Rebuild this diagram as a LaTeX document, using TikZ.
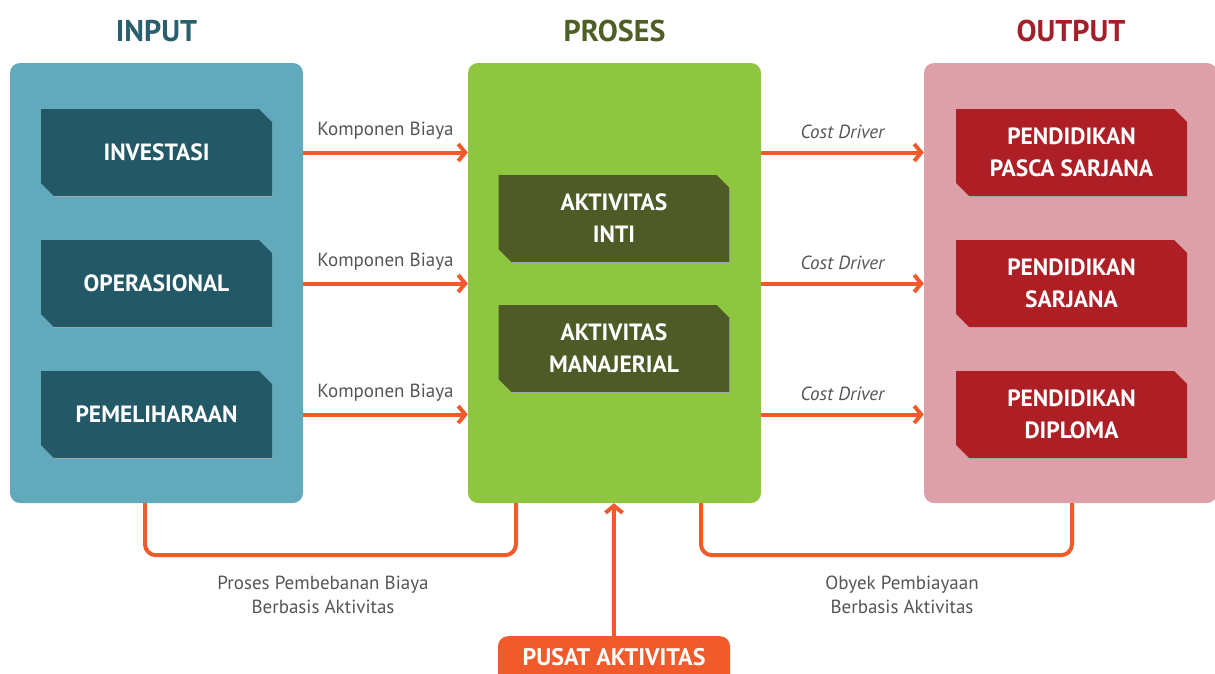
\documentclass[tikz,border=0pt]{standalone}
\usepackage{fontspec}
\setmainfont{PT Sans}
\usetikzlibrary{arrows.meta}
\definecolor{inbg}{HTML}{62A9BC}
\definecolor{inbox}{HTML}{235866}
\definecolor{intitle}{HTML}{2A5F6E}
\definecolor{prbg}{HTML}{8EC63F}
\definecolor{prbox}{HTML}{4E5B27}
\definecolor{prtitle}{HTML}{4F5E23}
\definecolor{outbg}{HTML}{DDA0A8}
\definecolor{outbox}{HTML}{AE1E25}
\definecolor{outtitle}{HTML}{A3202A}
\definecolor{flow}{HTML}{F15A2B}
\definecolor{note}{HTML}{555555}
\tikzset{
  panel/.style={fill=#1, rounded corners=10pt, minimum width=293pt, minimum height=440pt, inner sep=0pt},
  title/.style={text=#1, font=\bfseries\fontsize{30}{32}\selectfont},
  cutbox/.style={minimum width=231pt, minimum height=87pt, inner sep=0pt, align=center,
    text=white, font=\bfseries\fontsize{23.5}{32}\selectfont,
    path picture={
      \fill[#1] (path picture bounding box.north west)
        -- ([xshift=-13pt]path picture bounding box.north east)
        -- ([yshift=-13pt]path picture bounding box.north east)
        -- (path picture bounding box.south east)
        -- ([xshift=13pt]path picture bounding box.south west)
        -- ([yshift=13pt]path picture bounding box.south west) -- cycle;
      \draw[black!35, line width=0.9pt]
        ([yshift=-13pt]path picture bounding box.north east)
        -- (path picture bounding box.south east)
        -- ([xshift=13pt]path picture bounding box.south west);
    }},
  flowarrow/.style={draw=flow, line width=4pt, -{Straight Barb[length=7pt, width=17pt]}},
  flowline/.style={draw=flow, line width=4pt, rounded corners=11pt},
  lab/.style={text=note, font=\fontsize{19}{24}\selectfont, align=center},
}
\begin{document}
\begin{tikzpicture}[x=1pt, y=-1pt]
\useasboundingbox (0,0) rectangle (1215,673);

% three column panels
\node[panel=inbg]  (input)  at (156.5,283) {};
\node[panel=prbg]  (proses) at (614.5,283) {};
\node[panel=outbg] (output) at (1070.5,283) {};

% column titles
\node[title=intitle]  (tin)  at (156.5,31) {INPUT};
\node[title=prtitle]  (tpr)  at (614.5,31) {PROSES};
\node[title=outtitle] (tout) at (1071,31) {OUTPUT};

% input items
\node[cutbox=inbox] (inv) at (156.5,152.5) {INVESTASI};
\node[cutbox=inbox] (ops) at (156.5,283.5) {OPERASIONAL};
\node[cutbox=inbox] (pem) at (156.5,414.5) {PEMELIHARAAN};

% process items
\node[cutbox=prbox] (inti) at (614,218.5) {AKTIVITAS\\INTI};
\node[cutbox=prbox] (man)  at (614,348.5) {AKTIVITAS\\MANAJERIAL};

% output items
\node[cutbox=outbox] (pasca)   at (1071.5,152.5) {PENDIDIKAN\\PASCA SARJANA};
\node[cutbox=outbox] (sarjana) at (1071.5,283.5) {PENDIDIKAN\\SARJANA};
\node[cutbox=outbox] (diploma) at (1071.5,414.5) {PENDIDIKAN\\DIPLOMA};

% input -> process
\foreach \src in {inv,ops,pem}{
  \draw[flowarrow] (\src.east -| input.east) -- node[lab, above=8pt] {Komponen Biaya} (\src.east -| proses.west);
}
% process -> output
\foreach \dst in {pasca,sarjana,diploma}{
  \draw[flowarrow] (\dst.west -| proses.east) -- node[lab, above=8pt] {\itshape Cost Driver} (\dst.west -| output.west);
}

% activity centre feeding the process column
\node[fill=flow, rounded corners=10pt, minimum width=232pt, minimum height=56pt, anchor=north] (pusat) at (614,636) {};
\node[text=white, font=\bfseries\fontsize{24}{26}\selectfont] (pusatlab) at (614,657) {PUSAT AKTIVITAS};
\draw[flowarrow] (pusat.north) -- (pusat.north |- proses.south);

% bottom links
\draw[flowline] ([xshift=-11.5pt]input.south) -- ++(0,52) -| ([xshift=-98.5pt]proses.south);
\draw[flowline] ([xshift=86.5pt]proses.south) -- ++(0,52) -| ([xshift=1.5pt]output.south);
\node[lab] (lblL) at (323,595) {Proses Pembebanan Biaya\\Berbasis Aktivitas};
\node[lab] (lblR) at (902,595) {Obyek Pembiayaan\\Berbasis Aktivitas};
\end{tikzpicture}
\end{document}
